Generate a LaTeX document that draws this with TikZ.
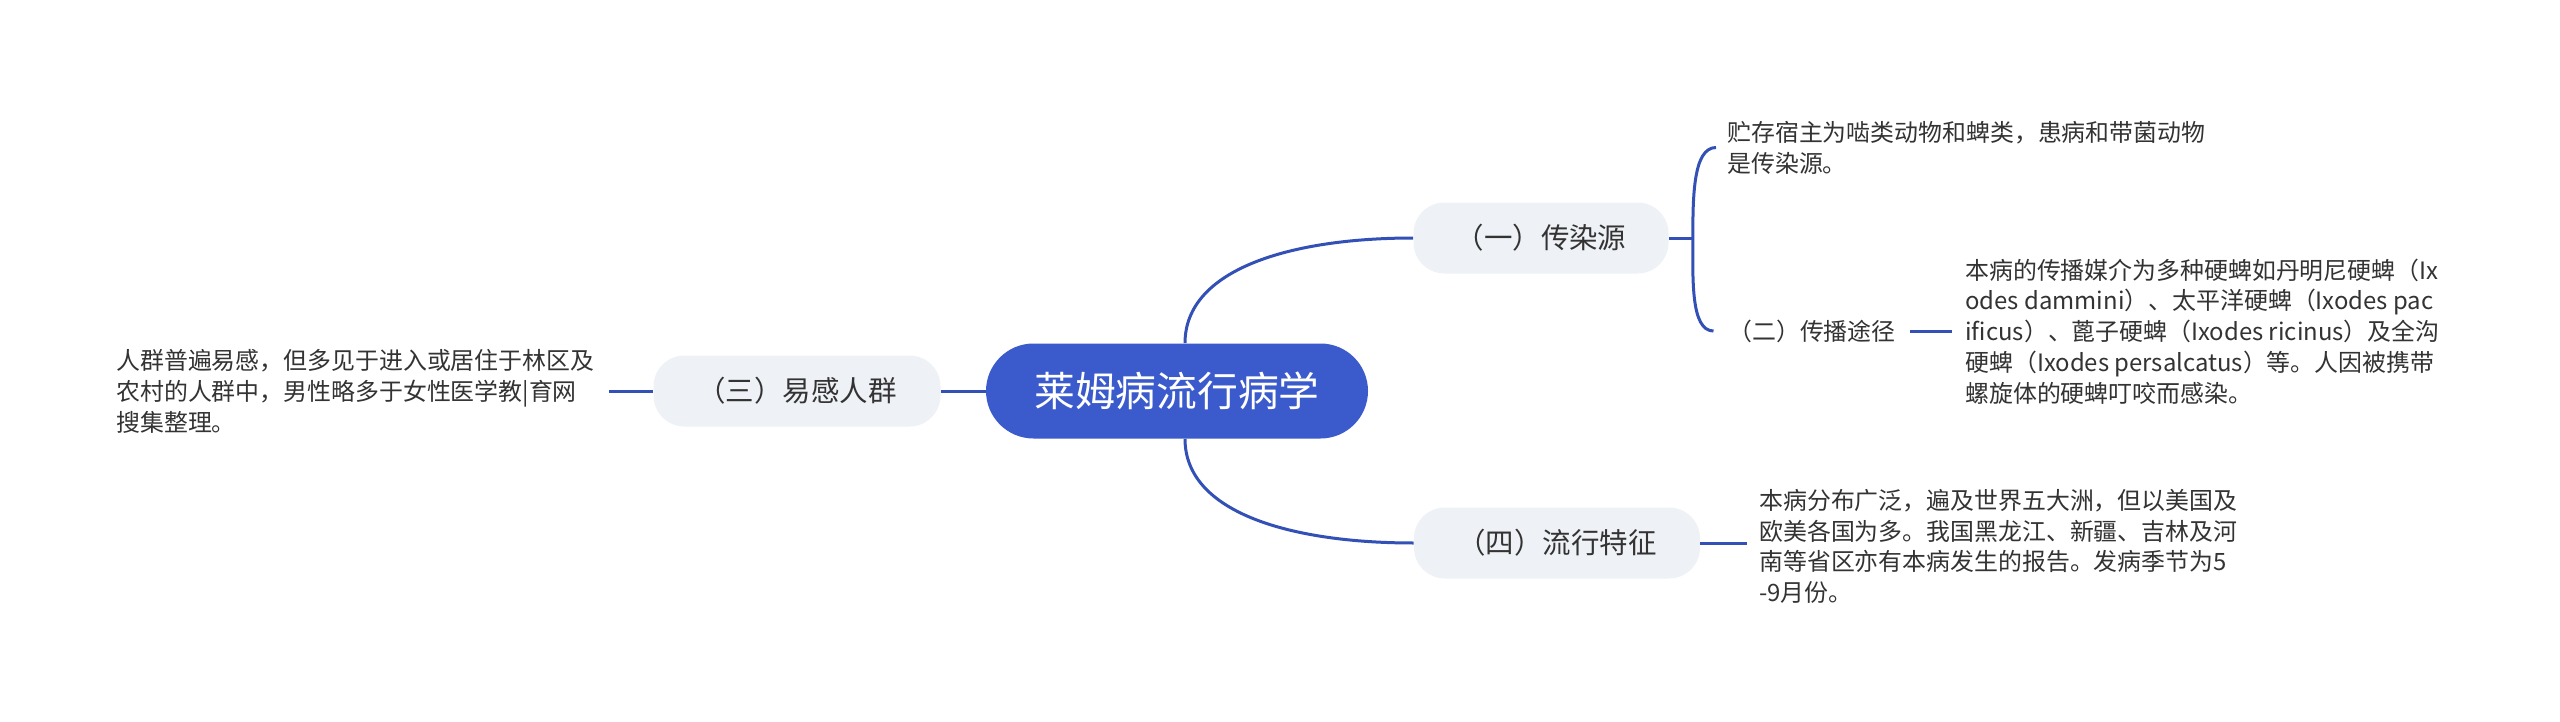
\documentclass[tikz,border=0pt]{standalone}
\usepackage{fontspec}
\setmainfont{Noto Sans CJK SC}
\begin{document}
\begin{tikzpicture}[
    conn/.style={line width=0.06cm, draw=r51g80b182},
    rootnode/.style={fill=r59g91b204, text=white, rounded corners=0.95cm,
      minimum width=7.64cm, minimum height=1.90cm, inner sep=0,
      font=\fontsize{23.2}{28}\selectfont},
    topic/.style={fill=r238g241b245, text=r51g51b51, rounded corners=0.62cm,
      minimum height=1.42cm, inner sep=0, font=\fontsize{16.2}{20}\selectfont},
    leaf/.style={text=r51g51b51, align=left, anchor=west, inner sep=0,
      font=\fontsize{13.6}{17.5}\selectfont}
  ]
  % Colours
  \definecolor{r59g91b204}{RGB}{59,91,204}%
  \definecolor{r51g80b182}{RGB}{51,80,182}%
  \definecolor{r238g241b245}{RGB}{238,241,245}%
  \definecolor{r51g51b51}{RGB}{51,51,51}%

  % Page
  \fill [white] (0,0) rectangle (51.200000,14.420000);
  \useasboundingbox (0,0) rectangle (51.200000,14.420000);

  % Root topic
  \node [rootnode] (lyme) at (23.540000,6.600000) {莱姆病流行病学};

  % Main topics
  \node [topic, minimum width=5.10cm] (source) at (30.820000,9.660000) {（一）传染源};
  \node [topic, minimum width=5.72cm] (feature) at (31.140000,3.560000) {（四）流行特征};
  \node [topic, minimum width=5.74cm] (crowd) at (15.940000,6.600000) {（三）易感人群};
  \node [leaf, anchor=center] (route) at (36.240000,7.800000) {（二）传播途径};

  % Leaf texts
  \node [leaf] (sourcetext) at (34.540000,11.470000)
    {贮存宿主为啮类动物和蜱类，患病和带菌动物\\是传染源。};
  \node [leaf] (routetext) at (39.300000,7.790000)
    {本病的传播媒介为多种硬蜱如丹明尼硬蜱（Ix\\odes dammini）、太平洋硬蜱（Ixodes pac\\ificus）、蓖子硬蜱（Ixodes ricinus）及全沟\\硬蜱（Ixodes persalcatus）等。人因被携带\\螺旋体的硬蜱叮咬而感染。};
  \node [leaf] (featuretext) at (35.180000,3.490000)
    {本病分布广泛，遍及世界五大洲，但以美国及\\欧美各国为多。我国黑龙江、新疆、吉林及河\\南等省区亦有本病发生的报告。发病季节为5\\-9月份。};
  \node [leaf] (crowdtext) at (2.320000,6.590000)
    {人群普遍易感，但多见于进入或居住于林区及\\农村的人群中，男性略多于女性医学教|育网\\搜集整理。};

  % Drawing root connectors
  \draw [conn] ([xshift=0.16cm]lyme.north) .. controls +(0,1.5) and +(-2.4,0) .. (source.west);
  \draw [conn] ([xshift=0.16cm]lyme.south) .. controls +(0,-1.5) and +(-2.4,0) .. (feature.west);
  \draw [conn] (lyme.west) -- (crowd.east);

  % Drawing bracket of source
  \coordinate (sourcefork) at ([xshift=0.48cm]source.east);
  \draw [conn] (source.east) -- (sourcefork);
  \draw [conn] ([xshift=-0.22cm]sourcetext.west) .. controls +(-0.46,0) and +(0,0.81) .. (sourcefork)
    .. controls +(0,-0.81) and +(-0.46,0) .. ([xshift=-0.29cm]route.west);

  % Drawing leaf connectors
  \draw [conn] ([xshift=0.28cm]route.east) -- ([xshift=-0.26cm]routetext.west |- route.east);
  \draw [conn] (feature.east) -- ([xshift=-0.24cm]featuretext.west |- feature.east);
  \draw [conn] (crowd.west) -- ([xshift=0.28cm]crowdtext.east |- crowd.west);
\end{tikzpicture}
\end{document}
